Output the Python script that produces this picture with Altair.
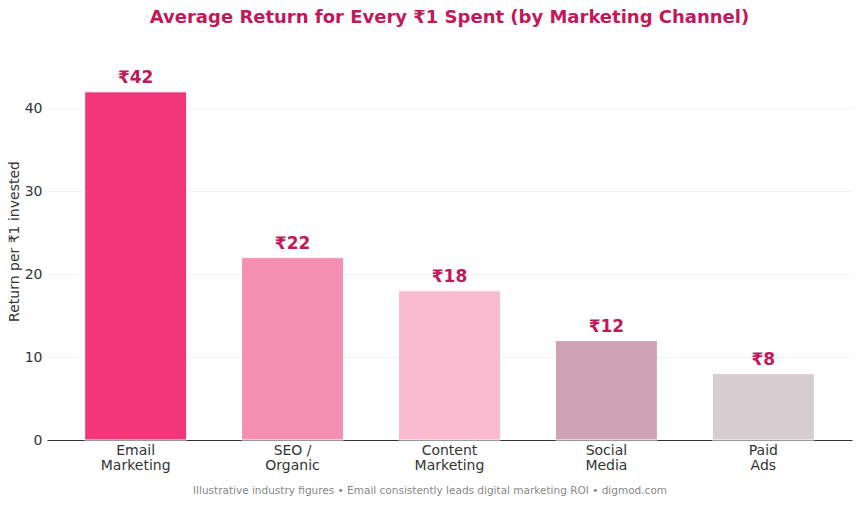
import altair as alt
import pandas as pd

channels = ["Email\nMarketing", "SEO /\nOrganic", "Content\nMarketing", "Social\nMedia", "Paid\nAds"]
returns = [42, 22, 18, 12, 8]
labels = ["₹42", "₹22", "₹18", "₹12", "₹8"]
colors = ["#F3367A", "#F48FB1", "#F8BBD0", "#CFA3B3", "#D7CCD0"]
footer = ["Illustrative industry figures • Email consistently leads digital marketing ROI • digmod.com"]

df = pd.DataFrame({"channel": channels, "value": returns, "label": labels, "color": colors})
foot_df = pd.DataFrame({"text": footer})

FONT = "DejaVu Sans"
PINK = "#C2185B"

x = alt.X("channel:N", sort=channels, title=None,
          scale=alt.Scale(paddingInner=0.35, paddingOuter=0.24),
          axis=alt.Axis(labelExpr="split(datum.label, '\\n')", labelAngle=0,
                        ticks=False, labelPadding=3, labelFontSize=14,
                        labelColor="#333333", labelFont=FONT, labelLineHeight=15,
                        domainColor="#333333", domainWidth=1.2, grid=False))
y = alt.Y("value:Q", title="Return per ₹1 invested",
          scale=alt.Scale(domain=[0, 46.2], nice=False),
          axis=alt.Axis(values=[0, 10, 20, 30, 40], ticks=False, labelPadding=5,
                        labelFontSize=14, labelColor="#333333", labelFont=FONT,
                        titleFont=FONT, titleFontSize=14, titleColor="#333333",
                        titleFontWeight="normal", titlePadding=3, titleY=184,
                        domain=False, gridColor="#EEEEEE", gridWidth=0.8))

bars = alt.Chart(df).mark_bar(stroke="white", strokeWidth=1).encode(
    x=x, y=y, color=alt.Color("color:N", scale=None, legend=None)
)

texts = alt.Chart(df).mark_text(baseline="bottom", dy=-5, fontSize=17, fontWeight="bold",
                                color=PINK, font=FONT).encode(
    x=alt.X("channel:N", sort=channels), y="value:Q", text="label:N"
)

foot = alt.Chart(foot_df).mark_text(fontSize=10.5, color="#888888", font=FONT,
                                    baseline="middle", align="center").encode(
    x=alt.value(383), y=alt.value(434), text="text:N"
)

chart = alt.layer(bars, texts, foot).properties(
    width=805, height=383,
    background="white",
    autosize=alt.AutoSizeParams(type="none"),
    padding={"left": 47, "top": 57, "right": 8, "bottom": 65},
    title=alt.TitleParams("Average Return for Every ₹1 Spent (by Marketing Channel)",
                          font=FONT, fontSize=18, fontWeight="bold", color=PINK,
                          anchor="middle", baseline="bottom", offset=12),
).configure_view(stroke="transparent", strokeWidth=0)

chart.save("out.html", embed_options={"renderer": "svg", "actions": False})
